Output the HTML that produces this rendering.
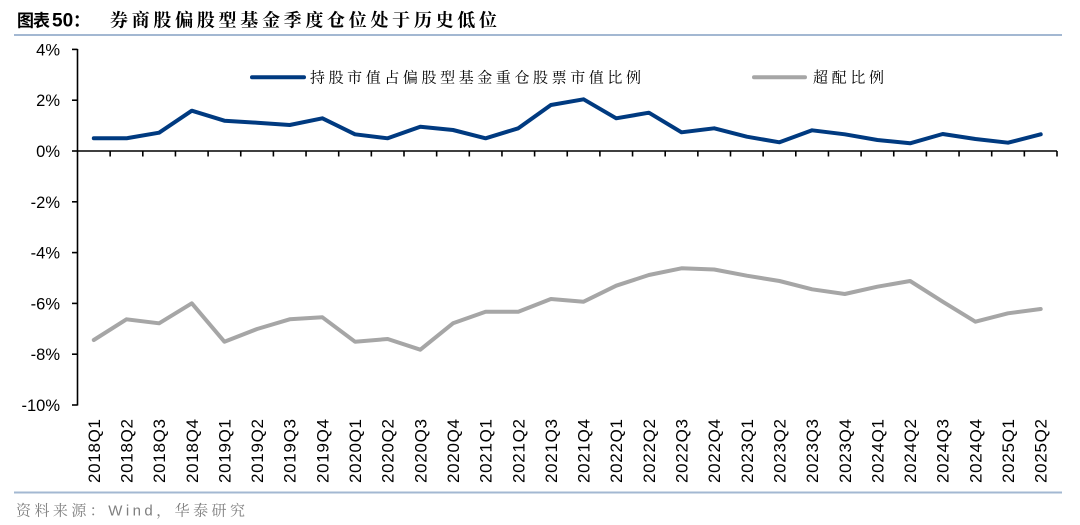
<!DOCTYPE html>
<html>
<head>
<meta charset="utf-8">
<style>
html,body{margin:0;padding:0;background:#fff;}
svg{display:block;}
</style>
</head>
<body>
<svg width="1080" height="525" viewBox="0 0 1080 525" xmlns="http://www.w3.org/2000/svg">
<rect width="1080" height="525" fill="#fff"/>
<!-- Title -->
<text x="17" y="26.5" font-family="'Noto Sans CJK SC', sans-serif" font-weight="bold" font-size="17" fill="#000" textLength="33" lengthAdjust="spacing">图表</text>
<text x="52" y="26.5" font-family="'Liberation Sans', sans-serif" font-weight="bold" font-size="19" fill="#000">50</text>
<text x="73" y="26.5" font-family="'Noto Sans CJK SC', sans-serif" font-weight="bold" font-size="17" fill="#000">：</text>
<text x="110" y="26.5" font-family="'Noto Serif CJK SC', serif" font-weight="bold" font-size="18" fill="#000" textLength="387" lengthAdjust="spacing">券商股偏股型基金季度仓位处于历史低位</text>
<line x1="14" y1="35" x2="1062" y2="35" stroke="#a3b8d2" stroke-width="2"/>

<!-- Axes -->
<g stroke="#000" stroke-width="1.6" fill="none">
<line x1="77.5" y1="49" x2="77.5" y2="405.5"/>
<line x1="72" y1="49.4" x2="77.5" y2="49.4"/>
<line x1="72" y1="100.2" x2="77.5" y2="100.2"/>
<line x1="72" y1="151" x2="77.5" y2="151"/>
<line x1="72" y1="201.8" x2="77.5" y2="201.8"/>
<line x1="72" y1="252.6" x2="77.5" y2="252.6"/>
<line x1="72" y1="303.4" x2="77.5" y2="303.4"/>
<line x1="72" y1="354.2" x2="77.5" y2="354.2"/>
<line x1="72" y1="405" x2="77.5" y2="405"/>
<line x1="77.5" y1="151" x2="1057" y2="151"/>
</g>

<!-- Y labels -->
<g font-family="'Liberation Sans', sans-serif" font-size="16.5" fill="#000" text-anchor="end">
<text x="60" y="55.4">4%</text>
<text x="60" y="106.2">2%</text>
<text x="60" y="157">0%</text>
<text x="60" y="207.8">-2%</text>
<text x="60" y="258.6">-4%</text>
<text x="60" y="309.4">-6%</text>
<text x="60" y="360.2">-8%</text>
<text x="60" y="411">-10%</text>
</g>

<!-- X ticks -->
<g stroke="#000" stroke-width="1.6">
<line x1="110.15" y1="151" x2="110.15" y2="156.5"/>
<line x1="142.8" y1="151" x2="142.8" y2="156.5"/>
<line x1="175.45" y1="151" x2="175.45" y2="156.5"/>
<line x1="208.1" y1="151" x2="208.1" y2="156.5"/>
<line x1="240.75" y1="151" x2="240.75" y2="156.5"/>
<line x1="273.4" y1="151" x2="273.4" y2="156.5"/>
<line x1="306.05" y1="151" x2="306.05" y2="156.5"/>
<line x1="338.7" y1="151" x2="338.7" y2="156.5"/>
<line x1="371.35" y1="151" x2="371.35" y2="156.5"/>
<line x1="404" y1="151" x2="404" y2="156.5"/>
<line x1="436.65" y1="151" x2="436.65" y2="156.5"/>
<line x1="469.3" y1="151" x2="469.3" y2="156.5"/>
<line x1="501.95" y1="151" x2="501.95" y2="156.5"/>
<line x1="534.6" y1="151" x2="534.6" y2="156.5"/>
<line x1="567.25" y1="151" x2="567.25" y2="156.5"/>
<line x1="599.9" y1="151" x2="599.9" y2="156.5"/>
<line x1="632.55" y1="151" x2="632.55" y2="156.5"/>
<line x1="665.2" y1="151" x2="665.2" y2="156.5"/>
<line x1="697.85" y1="151" x2="697.85" y2="156.5"/>
<line x1="730.5" y1="151" x2="730.5" y2="156.5"/>
<line x1="763.15" y1="151" x2="763.15" y2="156.5"/>
<line x1="795.8" y1="151" x2="795.8" y2="156.5"/>
<line x1="828.45" y1="151" x2="828.45" y2="156.5"/>
<line x1="861.1" y1="151" x2="861.1" y2="156.5"/>
<line x1="893.75" y1="151" x2="893.75" y2="156.5"/>
<line x1="926.4" y1="151" x2="926.4" y2="156.5"/>
<line x1="959.05" y1="151" x2="959.05" y2="156.5"/>
<line x1="991.7" y1="151" x2="991.7" y2="156.5"/>
<line x1="1024.35" y1="151" x2="1024.35" y2="156.5"/>
<line x1="1057" y1="151" x2="1057" y2="156.5"/>
</g>

<!-- X labels -->
<g font-family="'Liberation Sans', sans-serif" font-size="17" fill="#000" text-anchor="end">
<text transform="translate(93.8,419) rotate(-90)" dy="0.35em" textLength="64" lengthAdjust="spacing">2018Q1</text>
<text transform="translate(126.5,419) rotate(-90)" dy="0.35em" textLength="64" lengthAdjust="spacing">2018Q2</text>
<text transform="translate(159.1,419) rotate(-90)" dy="0.35em" textLength="64" lengthAdjust="spacing">2018Q3</text>
<text transform="translate(191.8,419) rotate(-90)" dy="0.35em" textLength="64" lengthAdjust="spacing">2018Q4</text>
<text transform="translate(224.4,419) rotate(-90)" dy="0.35em" textLength="64" lengthAdjust="spacing">2019Q1</text>
<text transform="translate(257.1,419) rotate(-90)" dy="0.35em" textLength="64" lengthAdjust="spacing">2019Q2</text>
<text transform="translate(289.7,419) rotate(-90)" dy="0.35em" textLength="64" lengthAdjust="spacing">2019Q3</text>
<text transform="translate(322.4,419) rotate(-90)" dy="0.35em" textLength="64" lengthAdjust="spacing">2019Q4</text>
<text transform="translate(355,419) rotate(-90)" dy="0.35em" textLength="64" lengthAdjust="spacing">2020Q1</text>
<text transform="translate(387.7,419) rotate(-90)" dy="0.35em" textLength="64" lengthAdjust="spacing">2020Q2</text>
<text transform="translate(420.3,419) rotate(-90)" dy="0.35em" textLength="64" lengthAdjust="spacing">2020Q3</text>
<text transform="translate(453,419) rotate(-90)" dy="0.35em" textLength="64" lengthAdjust="spacing">2020Q4</text>
<text transform="translate(485.6,419) rotate(-90)" dy="0.35em" textLength="64" lengthAdjust="spacing">2021Q1</text>
<text transform="translate(518.3,419) rotate(-90)" dy="0.35em" textLength="64" lengthAdjust="spacing">2021Q2</text>
<text transform="translate(550.9,419) rotate(-90)" dy="0.35em" textLength="64" lengthAdjust="spacing">2021Q3</text>
<text transform="translate(583.6,419) rotate(-90)" dy="0.35em" textLength="64" lengthAdjust="spacing">2021Q4</text>
<text transform="translate(616.2,419) rotate(-90)" dy="0.35em" textLength="64" lengthAdjust="spacing">2022Q1</text>
<text transform="translate(648.9,419) rotate(-90)" dy="0.35em" textLength="64" lengthAdjust="spacing">2022Q2</text>
<text transform="translate(681.5,419) rotate(-90)" dy="0.35em" textLength="64" lengthAdjust="spacing">2022Q3</text>
<text transform="translate(714.2,419) rotate(-90)" dy="0.35em" textLength="64" lengthAdjust="spacing">2022Q4</text>
<text transform="translate(746.8,419) rotate(-90)" dy="0.35em" textLength="64" lengthAdjust="spacing">2023Q1</text>
<text transform="translate(779.5,419) rotate(-90)" dy="0.35em" textLength="64" lengthAdjust="spacing">2023Q2</text>
<text transform="translate(812.1,419) rotate(-90)" dy="0.35em" textLength="64" lengthAdjust="spacing">2023Q3</text>
<text transform="translate(844.8,419) rotate(-90)" dy="0.35em" textLength="64" lengthAdjust="spacing">2023Q4</text>
<text transform="translate(877.4,419) rotate(-90)" dy="0.35em" textLength="64" lengthAdjust="spacing">2024Q1</text>
<text transform="translate(910.1,419) rotate(-90)" dy="0.35em" textLength="64" lengthAdjust="spacing">2024Q2</text>
<text transform="translate(942.7,419) rotate(-90)" dy="0.35em" textLength="64" lengthAdjust="spacing">2024Q3</text>
<text transform="translate(975.4,419) rotate(-90)" dy="0.35em" textLength="64" lengthAdjust="spacing">2024Q4</text>
<text transform="translate(1008,419) rotate(-90)" dy="0.35em" textLength="64" lengthAdjust="spacing">2025Q1</text>
<text transform="translate(1040.7,419) rotate(-90)" dy="0.35em" textLength="64" lengthAdjust="spacing">2025Q2</text>
</g>

<!-- Series -->
<polyline fill="none" stroke="#003a80" stroke-width="4" stroke-linejoin="round" stroke-linecap="round"
points="93.8,138.3 126.5,138.3 159.1,132.7 191.8,110.7 224.4,120.7 257.1,122.7 289.7,125 322.4,118.3 355,134.3 387.7,138.3 420.3,126.7 453,130 485.6,138.3 518.3,128.3 550.9,105 583.6,99.3 616.2,118.3 648.9,112.7 681.5,132.3 714.2,128.3 746.8,136.7 779.5,142.3 812.1,130.3 844.8,134.3 877.4,140 910.1,143.3 942.7,134 975.4,139 1008,142.7 1040.7,134.3"/>
<polyline fill="none" stroke="#a6a6a6" stroke-width="4" stroke-linejoin="round" stroke-linecap="round"
points="93.8,340 126.5,319.3 159.1,323.3 191.8,303.3 224.4,341.7 257.1,329 289.7,319.3 322.4,317.3 355,341.7 387.7,339 420.3,349.7 453,323.3 485.6,311.7 518.3,311.7 550.9,299 583.6,301.7 616.2,285.7 648.9,275 681.5,268.3 714.2,269.5 746.8,275.7 779.5,281 812.1,289.3 844.8,294 877.4,286.7 910.1,281 942.7,301.7 975.4,321.7 1008,313.3 1040.7,309"/>

<!-- Legend -->
<line x1="252" y1="77.3" x2="304" y2="77.3" stroke="#003a80" stroke-width="4" stroke-linecap="round"/>
<text x="310" y="82.5" font-family="'Noto Serif CJK SC', serif" font-size="15" fill="#000" textLength="331" lengthAdjust="spacing">持股市值占偏股型基金重仓股票市值比例</text>
<line x1="754" y1="77.3" x2="805" y2="77.3" stroke="#a6a6a6" stroke-width="4" stroke-linecap="round"/>
<text x="813" y="82.5" font-family="'Noto Serif CJK SC', serif" font-size="15" fill="#000" textLength="71" lengthAdjust="spacing">超配比例</text>

<!-- Footer -->
<line x1="14" y1="492.5" x2="1062" y2="492.5" stroke="#a3b8d2" stroke-width="2"/>
<text x="16" y="515.5" font-family="'Liberation Sans', 'Noto Serif CJK SC', serif" font-size="15" fill="#7f7f7f" textLength="229" lengthAdjust="spacing">资料来源：Wind，华泰研究</text>
</svg>
</body>
</html>
